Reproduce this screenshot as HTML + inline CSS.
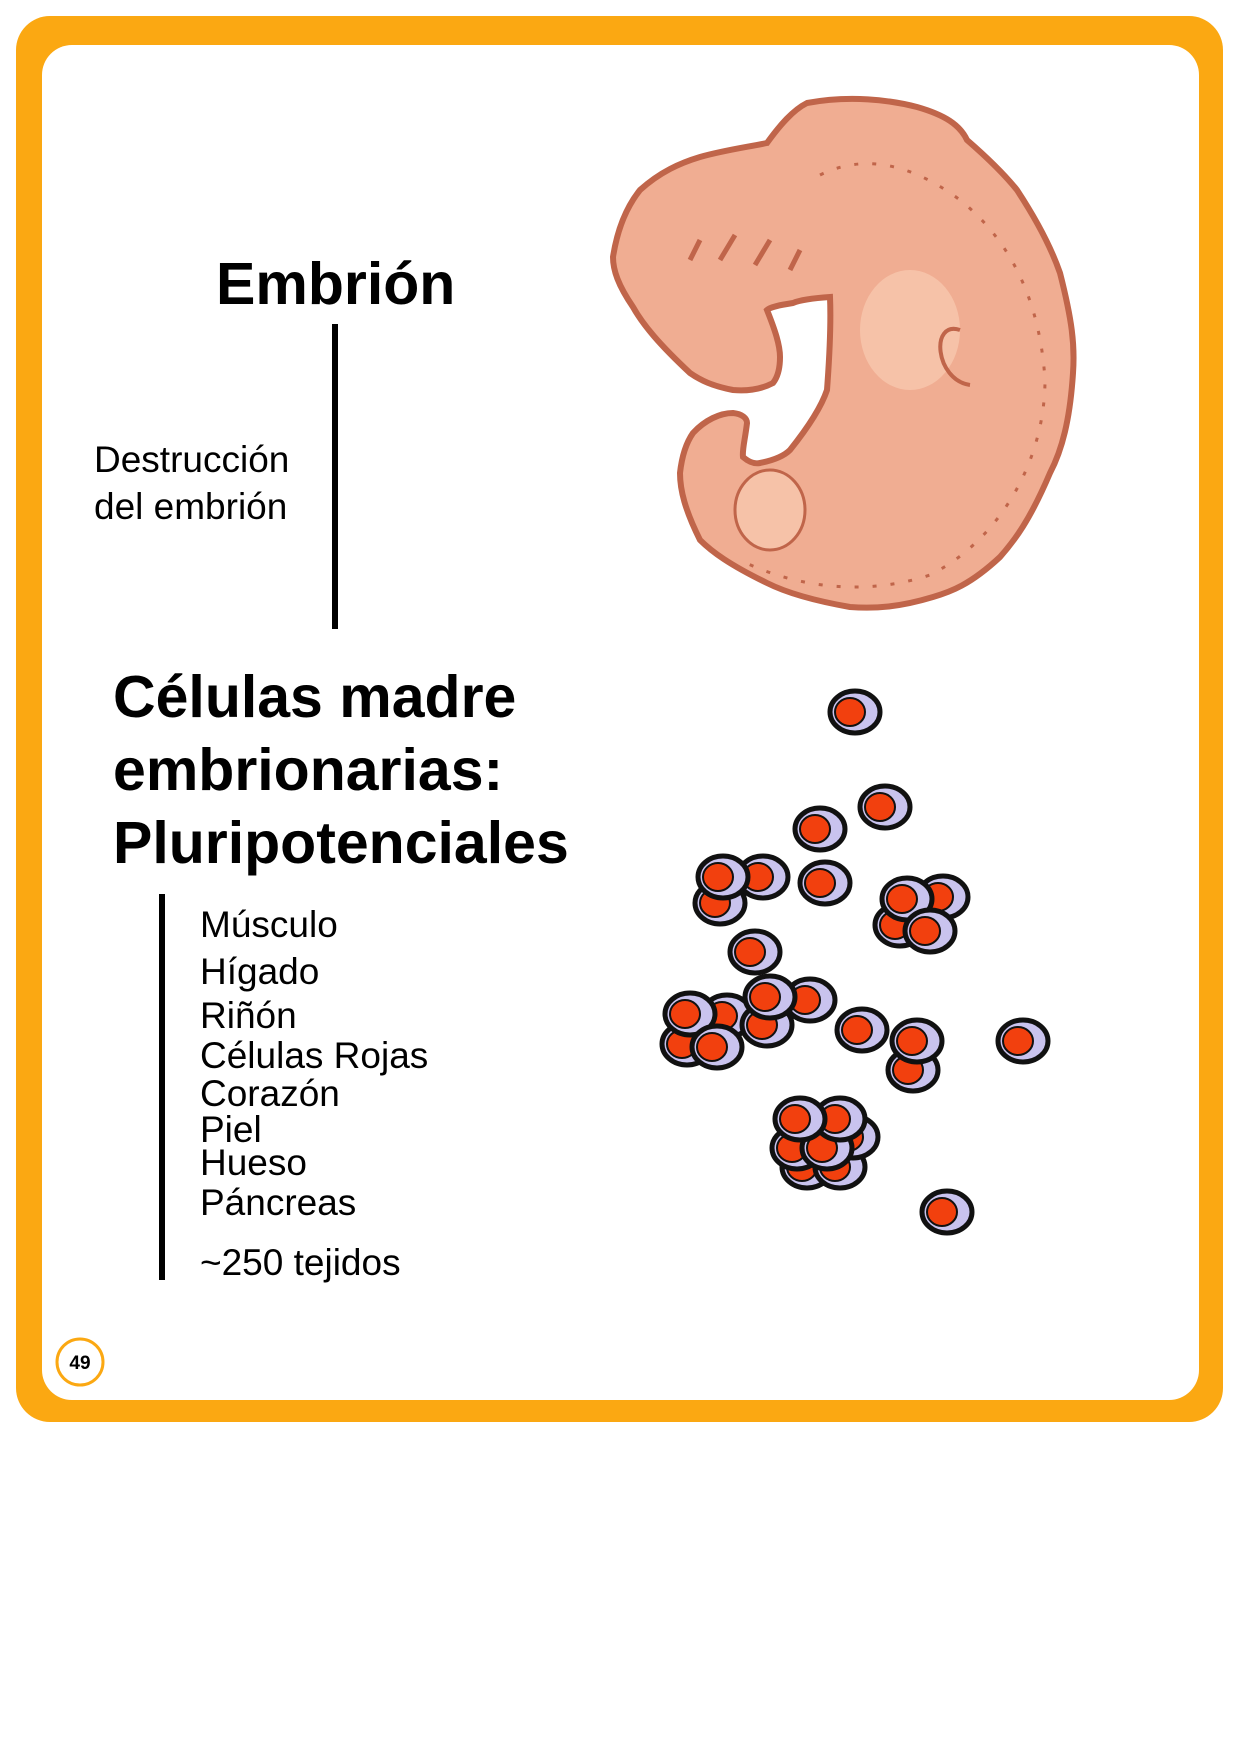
<!DOCTYPE html>
<html><head><meta charset="utf-8"><style>
body{margin:0;width:1240px;height:1755px;background:#fff;position:relative;overflow:hidden;font-family:"Liberation Sans",Arial,sans-serif;color:#000}
.t{position:absolute;white-space:nowrap;line-height:1}
</style></head><body>
<div style="position:absolute;left:16px;top:16px;width:1207px;height:1406px;background:#fba812;border-radius:34px"></div>
<div style="position:absolute;left:42px;top:45px;width:1157px;height:1355px;background:#fff;border-radius:30px"></div>

<svg style="position:absolute;left:0;top:0" width="1240" height="1755">
<defs>
<g id="c"><ellipse cx="0" cy="0" rx="25" ry="21" fill="#c9c3ee" stroke="#111" stroke-width="5"/><ellipse cx="-5" cy="0" rx="15" ry="14" fill="#f2400e" stroke="#111" stroke-width="2"/></g>
</defs>
<path d="M807,103 C850,95 890,100 917,107 C945,115 960,125 967,140 C990,160 1005,175 1017,190 C1040,225 1052,250 1060,273 C1072,320 1075,345 1073,373 C1070,420 1062,450 1050,473 C1030,520 1015,540 1000,557 C970,585 950,592 933,597 C900,607 875,609 850,607 C810,600 785,592 767,583 C730,565 712,552 700,540 C685,510 680,490 680,473 C682,455 686,443 693,433 C705,420 720,413 733,413 C742,414 747,418 747,423 C745,440 742,450 743,457 C750,463 755,464 760,463 C775,460 785,455 790,450 C810,425 822,405 827,390 C830,350 831,320 830,297 C815,298 800,300 793,303 C780,305 770,307 767,310 C775,330 780,345 780,357 C780,370 777,378 773,383 C760,390 745,391 733,390 C712,386 700,380 690,373 C660,345 643,325 633,307 C618,285 613,270 613,257 C618,225 628,205 640,190 C660,172 680,163 700,157 C725,150 748,147 767,143 C780,125 793,110 807,103 Z" fill="#f0ad92" stroke="#c0654a" stroke-width="6"/>
<ellipse cx="910" cy="330" rx="50" ry="60" fill="#f6c2a8"/>
<path d="M960,330 C930,320 935,380 970,385" fill="none" stroke="#c0654a" stroke-width="4"/>
<ellipse cx="770" cy="510" rx="35" ry="40" fill="#f6c2a8" stroke="#c0654a" stroke-width="3"/>
<path d="M820,175 C870,150 920,170 960,200 C1010,240 1040,300 1045,380 C1045,460 1000,540 930,575 C870,595 800,590 740,560" fill="none" stroke="#c0654a" stroke-width="3" stroke-dasharray="4 14"/>
<path d="M690,260 L700,240 M720,260 L735,235 M755,265 L770,240 M790,270 L800,250" stroke="#c0654a" stroke-width="5"/>

<g>
<use href="#c" x="855" y="712"/><use href="#c" x="885" y="807"/><use href="#c" x="820" y="829"/><use href="#c" x="825" y="883"/>
<use href="#c" x="720" y="903"/><use href="#c" x="763" y="877"/><use href="#c" x="723" y="877"/>
<use href="#c" x="755" y="952"/>
<use href="#c" x="900" y="925"/><use href="#c" x="943" y="897"/><use href="#c" x="907" y="899"/><use href="#c" x="930" y="931"/>
<use href="#c" x="687" y="1044"/><use href="#c" x="727" y="1016"/><use href="#c" x="690" y="1014"/><use href="#c" x="717" y="1047"/>
<use href="#c" x="767" y="1025"/><use href="#c" x="810" y="1000"/><use href="#c" x="770" y="997"/>
<use href="#c" x="862" y="1030"/>
<use href="#c" x="913" y="1070"/><use href="#c" x="917" y="1041"/>
<use href="#c" x="1023" y="1041"/>
<use href="#c" x="807" y="1167"/><use href="#c" x="840" y="1167"/><use href="#c" x="853" y="1137"/><use href="#c" x="797" y="1148"/><use href="#c" x="827" y="1148"/><use href="#c" x="840" y="1119"/><use href="#c" x="800" y="1119"/>
<use href="#c" x="947" y="1212"/>
</g>
<rect x="332" y="324" width="6" height="305" fill="#000"/>
<rect x="159" y="894" width="6" height="386" fill="#000"/>
<circle cx="80" cy="1362" r="23" fill="#fff" stroke="#fba812" stroke-width="3"/>
<text x="80" y="1369" font-family="Liberation Sans, sans-serif" font-weight="bold" font-size="19" text-anchor="middle">49</text>
</svg>

<div class="t" style="left:216px;top:255px;font-size:59px;font-weight:bold">Embrión</div>
<div class="t" style="left:94px;top:436px;font-size:37px;line-height:47px">Destrucción<br>del embrión</div>
<div class="t" style="left:113px;top:661px;font-size:59px;font-weight:bold;line-height:73px">Células madre<br>embrionarias:<br>Pluripotenciales</div>
<div class="t" style="left:200px;top:906px;font-size:37px">Músculo</div>
<div class="t" style="left:200px;top:953px;font-size:37px">Hígado</div>
<div class="t" style="left:200px;top:997px;font-size:37px">Riñón</div>
<div class="t" style="left:200px;top:1037px;font-size:37px">Células Rojas</div>
<div class="t" style="left:200px;top:1075px;font-size:37px">Corazón</div>
<div class="t" style="left:200px;top:1111px;font-size:37px">Piel</div>
<div class="t" style="left:200px;top:1144px;font-size:37px">Hueso</div>
<div class="t" style="left:200px;top:1184px;font-size:37px">Páncreas</div>
<div class="t" style="left:200px;top:1244px;font-size:37px">~250 tejidos</div>
</body></html>
